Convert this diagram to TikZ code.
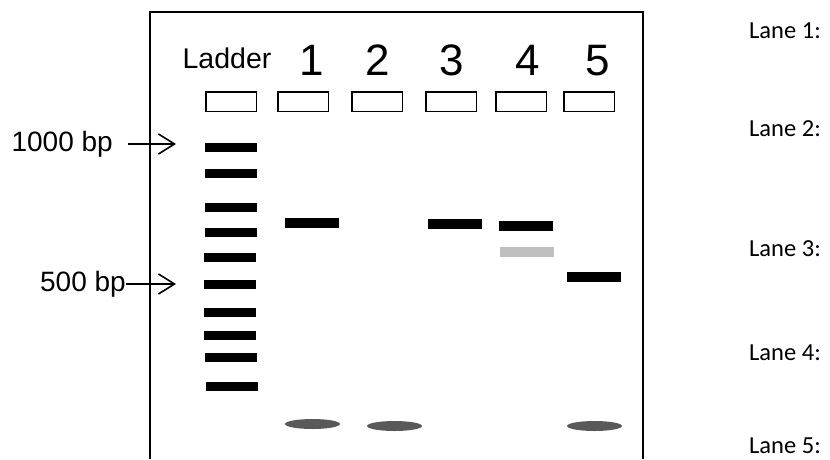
\documentclass[tikz,border=0pt]{standalone}
\usepackage{fontspec}
\setmainfont{Liberation Sans}
\newfontfamily\calibri{Carlito}
\usetikzlibrary{arrows.meta,shapes.geometric}
\definecolor{faintgray}{HTML}{BFBFBF}
\definecolor{dyegray}{HTML}{595959}
\begin{document}
\begin{tikzpicture}[x=1pt,y=-1pt,
  band/.style={fill=black,draw=none,minimum width=52pt,minimum height=9pt,inner sep=0pt,outer sep=0pt},
  sband/.style={fill=black,draw=none,minimum width=54pt,minimum height=10pt,inner sep=0pt,outer sep=0pt},
  faint/.style={sband,fill=faintgray},
  dye/.style={ellipse,fill=dyegray,draw=none,minimum width=55pt,minimum height=10pt,inner sep=0pt},
  well/.style={draw,line width=1.5pt,minimum width=50.5pt,minimum height=19.5pt,inner sep=0pt},
  lanenum/.style={font=\fontsize{44}{44}\selectfont,anchor=base,inner sep=0pt},
  lanelabel/.style={font=\calibri\fontsize{24.5}{25}\selectfont,anchor=base west,inner sep=0pt},
  bplabel/.style={font=\fontsize{28}{28}\selectfont,anchor=east,inner sep=0pt},
  marker/.style={line width=1.6pt,-{Straight Barb[length=16pt,width=20pt,line width=1.6pt]}}
]
\useasboundingbox (0,0) rectangle (830,459);
% gel frame
\draw[line width=2pt] (150,459) -- (150,12) -- (643,12) -- (643,459);
% headings
\node[lanenum,font=\fontsize{28.5}{28.5}\selectfont] (hL) at (227,68) {Ladder};
\node[lanenum] (h1) at (311.5,75) {1};
\node[lanenum] (h2) at (377.5,75) {2};
\node[lanenum] (h3) at (452,75) {3};
\node[lanenum] (h4) at (528,75) {4};
\node[lanenum] (h5) at (598,75) {5};
% wells
\node[well] (wL) at (231,101.5) {};
\node[well] (w1) at (303,101.5) {};
\node[well] (w2) at (377,101.5) {};
\node[well] (w3) at (451,101.5) {};
\node[well] (w4) at (521,101.5) {};
\node[well] (w5) at (589,101.5) {};
% ladder bands
\node[band] (b1) at (231,147) {};
\node[band] (b2) at (231,173) {};
\node[band] (b3) at (230.5,207) {};
\node[band] (b4) at (230.5,232) {};
\node[band] (b5) at (229.5,257) {};
\node[band] (b6) at (229.5,284) {};
\node[band] (b7) at (229.5,312) {};
\node[band] (b8) at (229.5,335) {};
\node[band] (b9) at (230.5,357) {};
\node[band] (b10) at (232,386) {};
% sample bands
\node[sband] (s1) at (312,223) {};
\node[sband] (s3) at (455,224) {};
\node[sband] (s4a) at (526,226) {};
\node[faint] (s4b) at (527,252) {};
\node[sband] (s5) at (594,276.5) {};
% loading dye
\node[dye] (d1) at (312.5,424) {};
\node[dye] (d2) at (394.5,426) {};
\node[dye] (d5) at (594.5,426) {};
% size markers
\node[bplabel] (m1000) at (113,144) {1000 bp};
\coordinate (a1s) at (128,144);
\coordinate (a1e) at (176,144);
\draw[marker] (a1s) -- (a1e);
\node[bplabel] (m500) at (126,284) {500 bp};
\coordinate (a2e) at (176,284);
\draw[marker] (m500.east) -- (a2e);
% lane labels
\node[lanelabel] (l1) at (749,38.5) {Lane 1:};
\node[lanelabel] (l2) at (749,136) {Lane 2:};
\node[lanelabel] (l3) at (749,256) {Lane 3:};
\node[lanelabel] (l4) at (749,360) {Lane 4:};
\node[lanelabel] (l5) at (749,453.5) {Lane 5:};
\end{tikzpicture}
\end{document}
